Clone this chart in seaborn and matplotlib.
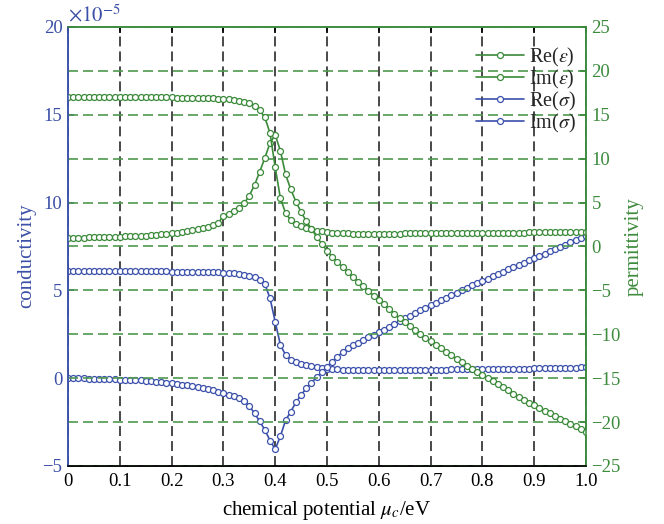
import numpy as np
import matplotlib
matplotlib.use("Agg")
import matplotlib.pyplot as plt
import seaborn as sns

# ---------------- data ----------------
mu = np.round(np.linspace(0.0, 1.0, 101), 2)

re_sigma = [6.10, 6.10, 6.10, 6.10, 6.10, 6.10, 6.10, 6.10, 6.10, 6.10,
            6.10, 6.10, 6.09, 6.09, 6.09, 6.09, 6.08, 6.08, 6.08, 6.08,
            6.07, 6.07, 6.07, 6.06, 6.06, 6.05, 6.05, 6.04, 6.03, 6.02,
            6.01, 5.99, 5.97, 5.94, 5.90, 5.84, 5.76, 5.62, 5.35, 4.55,
            3.20, 1.90, 1.32, 1.06, 0.92, 0.83, 0.76, 0.70, 0.64, 0.59,
            0.55, 0.52, 0.50, 0.49, 0.48, 0.47, 0.47, 0.47, 0.47, 0.47,
            0.47, 0.47, 0.47, 0.47, 0.47, 0.48, 0.48, 0.48, 0.48, 0.48,
            0.49, 0.49, 0.49, 0.49, 0.50, 0.50, 0.50, 0.51, 0.51, 0.51,
            0.52, 0.52, 0.52, 0.53, 0.53, 0.54, 0.54, 0.54, 0.55, 0.55,
            0.56, 0.56, 0.57, 0.57, 0.58, 0.58, 0.59, 0.60, 0.60, 0.61, 0.62]

im_sigma = [0.00, 0.00, -0.01, -0.01, -0.02, -0.03, -0.03, -0.04, -0.05, -0.06,
            -0.08, -0.09, -0.10, -0.11, -0.13, -0.15, -0.17, -0.20, -0.23, -0.26,
            -0.30, -0.33, -0.36, -0.40, -0.44, -0.49, -0.54, -0.60, -0.67, -0.76,
            -0.85, -0.93, -1.02, -1.14, -1.32, -1.58, -2.00, -2.45, -2.95, -3.55,
            -4.05, -3.30, -2.40, -1.90, -1.38, -0.95, -0.58, -0.25, 0.05, 0.34,
            0.66, 0.95, 1.22, 1.48, 1.70, 1.88, 2.03, 2.18, 2.33, 2.47,
            2.62, 2.77, 2.93, 3.09, 3.25, 3.41, 3.56, 3.71, 3.86, 4.01,
            4.16, 4.30, 4.44, 4.58, 4.72, 4.86, 5.00, 5.14, 5.28, 5.41,
            5.54, 5.67, 5.80, 5.93, 6.06, 6.19, 6.32, 6.45, 6.58, 6.71,
            6.84, 6.97, 7.10, 7.23, 7.36, 7.49, 7.61, 7.73, 7.85, 7.97, 8.09]

re_eps = [1.00, 1.00, 1.01, 1.02, 1.03, 1.04, 1.05, 1.06, 1.08, 1.10,
          1.12, 1.14, 1.16, 1.19, 1.22, 1.25, 1.29, 1.33, 1.38, 1.43,
          1.49, 1.56, 1.64, 1.73, 1.83, 1.95, 2.09, 2.25, 2.44, 2.66,
          3.50, 3.75, 4.05, 4.40, 4.90, 5.80, 7.00, 8.50, 10.10, 11.80,
          12.70, 10.90, 8.20, 6.50, 5.10, 3.90, 2.90, 2.00, 1.10, 0.30,
          -0.50, -1.15, -1.75, -2.35, -2.90, -3.45, -4.00, -4.55, -5.05, -5.60,
          -6.10, -6.60, -7.10, -7.65, -8.15, -8.60, -9.05, -9.50, -9.95, -10.40,
          -10.80, -11.20, -11.60, -12.00, -12.40, -12.80, -13.20, -13.60, -13.95, -14.30,
          -14.65, -15.00, -15.35, -15.70, -16.05, -16.40, -16.75, -17.10, -17.45, -17.80,
          -18.10, -18.40, -18.70, -19.00, -19.30, -19.60, -19.90, -20.20, -20.50, -20.80, -21.10]

im_eps = [17.00, 17.00, 17.00, 17.00, 17.00, 17.00, 17.00, 17.00, 17.00, 17.00,
          17.00, 17.00, 17.00, 17.00, 17.00, 16.99, 16.99, 16.98, 16.98, 16.97,
          16.97, 16.96, 16.95, 16.94, 16.93, 16.92, 16.90, 16.88, 16.86, 16.83,
          16.80, 16.75, 16.69, 16.61, 16.50, 16.30, 16.00, 15.50, 14.70, 12.90,
          9.00, 5.50, 3.80, 3.00, 2.60, 2.30, 2.10, 1.95, 1.82, 1.72,
          1.64, 1.58, 1.54, 1.51, 1.49, 1.47, 1.46, 1.45, 1.45, 1.45,
          1.45, 1.46, 1.46, 1.47, 1.47, 1.48, 1.48, 1.49, 1.49, 1.50,
          1.50, 1.51, 1.51, 1.52, 1.52, 1.53, 1.53, 1.54, 1.54, 1.55,
          1.55, 1.56, 1.56, 1.57, 1.57, 1.58, 1.58, 1.59, 1.59, 1.60,
          1.60, 1.61, 1.61, 1.62, 1.62, 1.63, 1.63, 1.64, 1.64, 1.65, 1.66]

x_ticks = [0.0, 0.1, 0.2, 0.3, 0.4, 0.5, 0.6, 0.7, 0.8, 0.9, 1.0]
x_ticklabels = ["0", "0.1", "0.2", "0.3", "0.4", "0.5", "0.6", "0.7", "0.8", "0.9", "1.0"]
left_ticks = [-5, 0, 5, 10, 15, 20]
right_ticks = [-25, -20, -15, -10, -5, 0, 5, 10, 15, 20, 25]

# ---------------- style ----------------
sns.set_theme(style="white")
plt.rcParams['font.family'] = ['Liberation Serif', 'DejaVu Serif']
plt.rcParams['mathtext.fontset'] = 'stix'
plt.rcParams['axes.unicode_minus'] = True

GREEN = "#3a8a3a"
BLUE = "#3b50aa"
GREEN_T = "#3d8b3d"
BLUE_T = "#3b4fa6"
FS = 13.5
FL = 15

fig = plt.figure(figsize=(6.64, 5.24), dpi=100)
ax = fig.add_axes([0.1025, 0.1107, 0.7800, 0.8378])
ax2 = ax.twinx()

mk = dict(marker='o', markersize=4.3, markerfacecolor='white',
          markeredgewidth=0.9, linewidth=1.2)

sns.lineplot(x=mu, y=re_sigma, ax=ax, color=BLUE, markeredgecolor=BLUE,
             label=r"Re($\sigma$)", **mk)
sns.lineplot(x=mu, y=im_sigma, ax=ax, color=BLUE, markeredgecolor=BLUE,
             label=r"Im($\sigma$)", **mk)
sns.lineplot(x=mu, y=re_eps, ax=ax2, color=GREEN, markeredgecolor=GREEN,
             label=r"Re($\varepsilon$)", **mk)
sns.lineplot(x=mu, y=im_eps, ax=ax2, color=GREEN, markeredgecolor=GREEN,
             label=r"Im($\varepsilon$)", **mk)

for a in (ax, ax2):
    if a.get_legend() is not None:
        a.get_legend().remove()

ax.set_xlim(0, 1.0)
ax.set_ylim(-5, 20)
ax2.set_ylim(-25, 25)

ax.set_xticks(x_ticks)
ax.set_xticklabels(x_ticklabels)
ax.set_yticks(left_ticks)
ax2.set_yticks(right_ticks)

# grids
ax.grid(False)
ax2.grid(False)
ax.xaxis.grid(True, color="#3a3a3a", linewidth=1.3, linestyle=(0, (5.5, 2.8)))
ax2.yaxis.grid(True, color="#4e9a4e", linewidth=1.2, linestyle=(0, (6, 3)))
ax.set_axisbelow(True)
ax2.set_axisbelow(True)

# ticks
ax.tick_params(axis='x', direction='in', length=4, labelsize=FS, colors='black',
               top=True, pad=5)
ax.tick_params(axis='y', direction='in', length=4, labelsize=FS, colors=BLUE_T, pad=4)
ax2.tick_params(axis='y', direction='in', length=4, labelsize=FS, colors=GREEN_T, pad=4)

# spines
for a in (ax, ax2):
    a.spines['left'].set_color(BLUE)
    a.spines['right'].set_color(GREEN)
    a.spines['top'].set_color(GREEN)
    a.spines['bottom'].set_color('black')
    for s in a.spines.values():
        s.set_linewidth(1.1)

ax.set_xlabel(r"chemical potential $\mu_c$/eV", fontsize=FL, color='black')
ax.set_ylabel("conductivity", fontsize=FL, color=BLUE_T)
ax2.set_ylabel("permittivity", fontsize=FL, color=GREEN_T)
ax.xaxis.set_label_coords(0.5, -0.075)
ax.yaxis.set_label_coords(-0.062, 0.48)
ax2.yaxis.set_label_coords(1.075, 0.5)

ax.text(0.0, 1.012, r"$\times10^{-5}$", transform=ax.transAxes, fontsize=FL,
        color=BLUE_T, ha='left', va='baseline')

h1, l1 = ax.get_legend_handles_labels()
h2, l2 = ax2.get_legend_handles_labels()
leg = ax2.legend(h2 + h1, l2 + l1, loc='upper right', bbox_to_anchor=(1.0, 0.98),
                 frameon=False, fontsize=14.5, handlelength=2.4, handletextpad=0.25,
                 labelspacing=-0.05, borderaxespad=0.1, numpoints=1)

fig.savefig("out.png", dpi=100)
